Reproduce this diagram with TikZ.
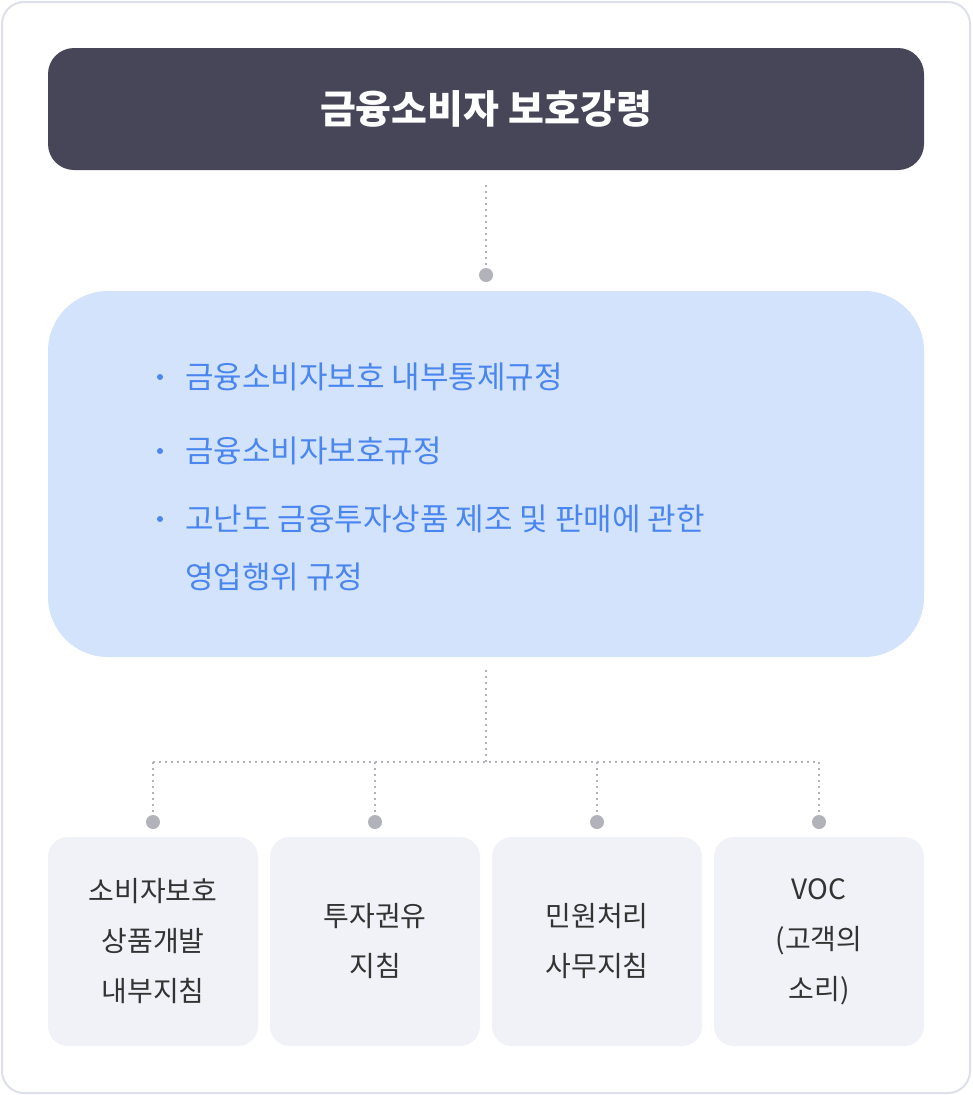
\documentclass[tikz,border=0pt]{standalone}
\usepackage{fontspec}
\setmainfont{Noto Sans CJK KR}
\begin{document}
\begin{tikzpicture}[x=1pt,y=-1pt,
  dotl/.style={draw=dotc,line width=2pt,dash pattern=on 2pt off 4pt},
  dotn/.style={circle,fill=dotc,inner sep=0pt,minimum size=14pt},
  small/.style={rounded corners=20pt,fill=boxc,minimum width=210pt,minimum height=209pt,text=txtc,font=\fontsize{28}{50}\selectfont,align=center},
  bl/.style={anchor=west,text=bluet,font=\fontsize{31}{40}\selectfont,inner sep=0pt}]
\definecolor{dotc}{HTML}{B2B3BA}
\definecolor{boxc}{HTML}{F0F2F8}
\definecolor{txtc}{HTML}{333333}
\definecolor{bluet}{HTML}{4A86F0}
\definecolor{bluef}{HTML}{D4E3FC}
\definecolor{darkf}{HTML}{474658}
\definecolor{bordc}{HTML}{DDE0EA}
\useasboundingbox (0,0) rectangle (972,1095);
\draw[bordc,line width=2pt,fill=white,rounded corners=22pt] (2,2) rectangle (970,1093);
\node[fill=darkf,rounded corners=26pt,minimum width=876pt,minimum height=122pt,text=white,font=\fontsize{39}{40}\selectfont\bfseries] (top) at (486,109) {금융소비자 보호강령};
\node[fill=bluef,rounded corners=60pt,minimum width=876pt,minimum height=366pt] (mid) at (486,474) {};
\node[dotn] (d0) at (486,275) {};
\coordinate (t0) at (486,185);
\draw[dotl] (t0) -- (d0);
\foreach \y/\t in {377/금융소비자보호 내부통제규정,451/금융소비자보호규정,519/고난도 금융투자상품 제조 및 판매에 관한}{
  \node[circle,fill=bluet,inner sep=0pt,minimum size=6pt] at (160,\y) {};
  \node[bl] at (185,\y) {\t};}
\node[bl] (l4) at (185,577) {영업행위 규정};
\coordinate (m0) at (486,670);
\coordinate (m1) at (486,762);
\draw[dotl] (m0) -- (m1);
\coordinate (hl) at (153,762);
\coordinate (hr) at (819,762);
\draw[dotl] (hl) -- (hr);
\foreach \i/\x/\t in {1/153/{소비자보호\\상품개발\\내부지침},2/375/{투자권유\\지침},3/597/{민원처리\\사무지침},4/819/{VOC\\(고객의\\소리)}}{
  \coordinate (v\i) at (\x,762);
  \node[dotn] (p\i) at (\x,822) {};
  \draw[dotl] (v\i) -- (p\i);
  \node[small] (b\i) at (\x,941.5) {\t};}
\end{tikzpicture}
\end{document}
